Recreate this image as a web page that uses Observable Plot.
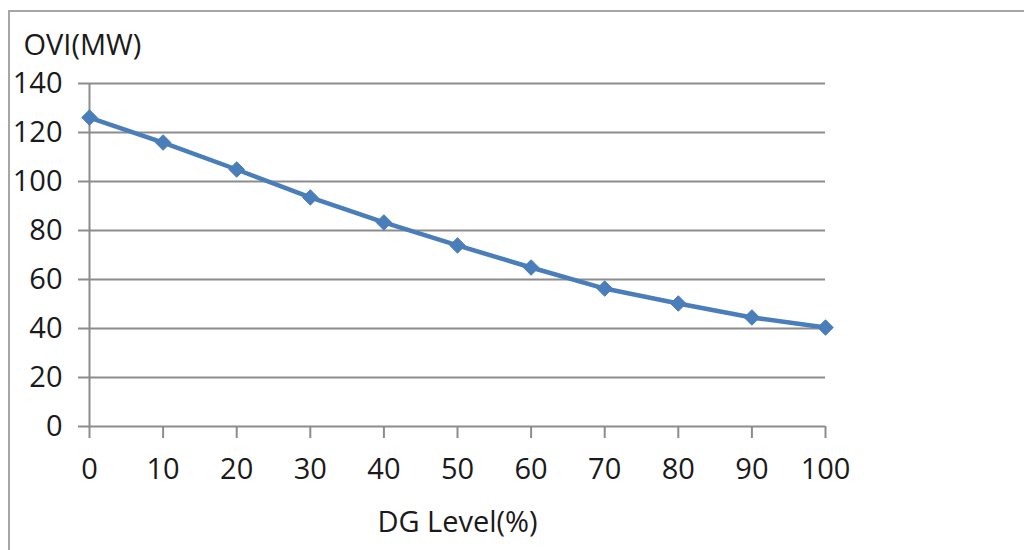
<!DOCTYPE html>
<html>
<head>
<meta charset="utf-8">
<script src="https://cdn.jsdelivr.net/npm/d3@7"></script>
<script src="https://cdn.jsdelivr.net/npm/@observablehq/plot@0.6"></script>
<style>
  html, body { margin: 0; padding: 0; background: #fff; }
  #wrap { position: relative; width: 1024px; height: 550px; overflow: hidden; }
  #frame { position: absolute; left: 8px; top: 10px; width: 1020px; height: 545px;
           border-top: 2px solid #a6a6a6; border-left: 2px solid #a6a6a6; }
  #chart { position: absolute; left: 0; top: 0; }
</style>
</head>
<body>
<div id="wrap"><div id="frame"></div><div id="chart"></div></div>
<script>
const dgLevel = [0, 10, 20, 30, 40, 50, 60, 70, 80, 90, 100];
const oviMW   = [126.1, 115.9, 104.9, 93.5, 83.3, 73.9, 64.9, 56.3, 50.2, 44.5, 40.4];
const xTicks  = [0, 10, 20, 30, 40, 50, 60, 70, 80, 90, 100];
const yTicks  = [0, 20, 40, 60, 80, 100, 120, 140];
const yTitle  = "OVI(MW)";
const xTitle  = "DG Level(%)";

const data = dgLevel.map((x, i) => ({x, y: oviMW[i]}));

const chart = Plot.plot({
  width: 1024,
  height: 550,
  marginLeft: 89,
  marginRight: 199,
  marginTop: 83,
  marginBottom: 124,
  x: {domain: [0, 100]},
  y: {domain: [0, 140]},
  style: {fontFamily: "'Open Sans', sans-serif", fontSize: "29px", color: "#1a1a1a", background: "transparent", overflow: "visible"},
  marks: [
    Plot.gridY(yTicks, {stroke: "#8c8c8c", strokeOpacity: 1, strokeWidth: 2}),
    Plot.axisY(yTicks, {tickSize: 11, tickPadding: 16, stroke: "#8c8c8c", strokeWidth: 2, fill: "#1a1a1a", label: null, tickFormat: d => String(d)}),
    Plot.axisX(xTicks, {tickSize: 12, tickPadding: 20, stroke: "#8c8c8c", strokeWidth: 2, fill: "#1a1a1a", label: null, tickFormat: d => String(d)}),
    Plot.ruleX([0], {stroke: "#8c8c8c", strokeWidth: 2}),
    Plot.line(data, {x: "x", y: "y", stroke: "#4a7ebb", strokeWidth: 4.5, curve: "linear"}),
    Plot.dot(data, {x: "x", y: "y", symbol: "diamond2", r: 7, fill: "#4a7ebb", stroke: "#4a7ebb", strokeWidth: 1}),
    Plot.text([yTitle], {frameAnchor: "top-left", dx: -66, dy: -38, textAnchor: "start", lineAnchor: "middle", fill: "#1a1a1a"}),
    Plot.text([xTitle], {frameAnchor: "bottom", dy: 96, textAnchor: "middle", lineAnchor: "middle", fill: "#1a1a1a"})
  ]
});
document.getElementById("chart").appendChild(chart);
</script>
</body>
</html>
